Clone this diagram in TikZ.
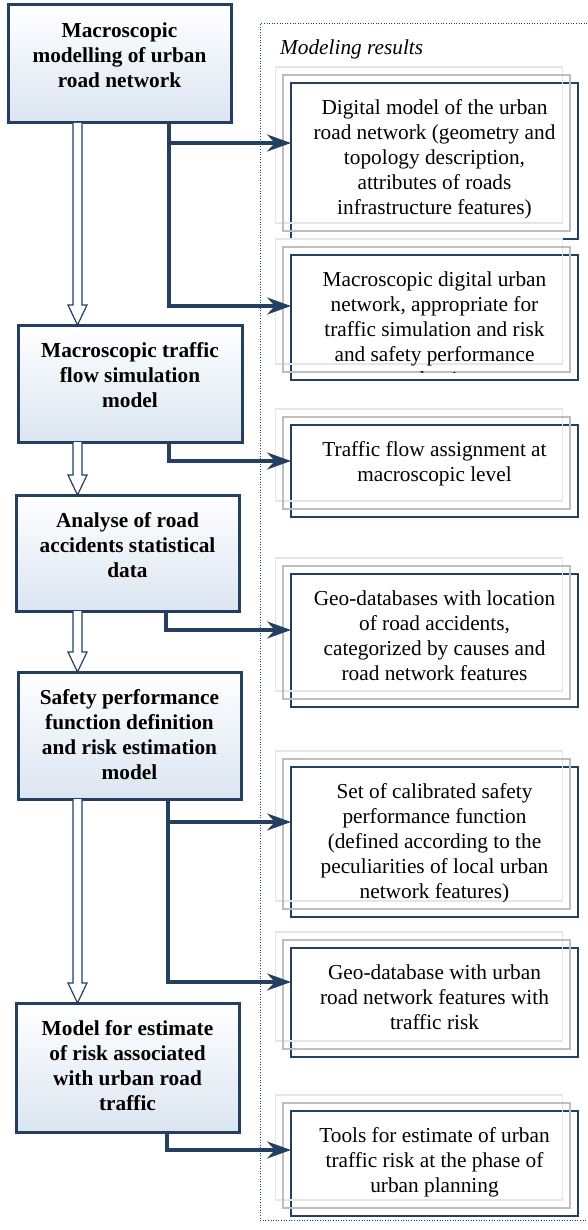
\documentclass[tikz,border=0pt]{standalone}
\usepackage{fontspec}
\setmainfont{Liberation Serif}
\usetikzlibrary{arrows.meta,calc}
\definecolor{navy}{HTML}{243F60}
\definecolor{boxbot}{HTML}{DBE5F1}
\definecolor{frameA}{HTML}{BEBEBE}
\definecolor{frameB}{HTML}{E6E6E6}
\begin{document}
\begin{tikzpicture}[x=1pt,y=-1pt,
  stagebox/.style={draw=navy,line width=3pt,top color=white,bottom color=boxbot,inner sep=0pt,outer sep=0pt},
  stagetext/.style={font=\fontsize{21.3}{25}\selectfont\bfseries,align=center,inner sep=0pt,anchor=north,text=black},
  resbox/.style={draw=navy,line width=2pt,inner sep=0pt,outer sep=0pt,minimum width=287pt},
  restext/.style={font=\fontsize{21.3}{25}\selectfont,align=center,inner sep=0pt,anchor=north,text=black},
  ghostA/.style={draw=frameA,line width=1.5pt},
  ghostB/.style={draw=frameB,line width=1.5pt},
  elbow/.style={draw=navy,line width=3.5pt,-{Stealth[length=24pt,width=17pt,inset=8pt]}},
  hollow/.style={draw=navy,line width=1.2pt,fill=white,line join=miter},
  container/.style={draw=navy,line width=1pt,dash pattern=on 1pt off 1.6pt},
]
\useasboundingbox (0,0) rectangle (587,1230);

% container
\draw[container] (590,24) -- (260,24) -- (260,1220) -- (590,1220);
\node[font=\fontsize{21.3}{25}\selectfont\itshape,anchor=base west,inner sep=0pt] (lbl) at (280,54.5) {Modeling results};

% left stage boxes
\node[stagebox,minimum width=223pt,minimum height=118pt] (b1) at (119.5,64) {};
\node[stagebox,minimum width=224pt,minimum height=117pt] (b2) at (130,383.5) {};
\node[stagebox,minimum width=223pt,minimum height=116pt] (b3) at (127.5,553) {};
\node[stagebox,minimum width=223pt,minimum height=127pt] (b4) at (129.5,735.5) {};
\node[stagebox,minimum width=223pt,minimum height=129pt] (b5) at (127.5,1067.5) {};

\node[stagetext] (t1) at ($(b1.north)+(0,14.5)$) {\strut Macroscopic\\modelling of urban\\road network};
\node[stagetext] (t2) at ($(b2.north)+(0,14.5)$) {\strut Macroscopic traffic\\flow simulation\\model};
\node[stagetext] (t3) at ($(b3.north)+(0,14.5)$) {\strut Analyse of road\\accidents statistical\\data};
\node[stagetext] (t4) at ($(b4.north)+(0,14.5)$) {\strut Safety performance\\function definition\\and risk estimation\\model};
\node[stagetext] (t5) at ($(b5.north)+(0,14.5)$) {\strut Model for estimate\\of risk associated\\with urban road\\traffic};

% result boxes
\node[resbox,minimum height=156pt] (r1) at (434.5,161) {};
\node[resbox,minimum height=125pt] (r2) at (434.5,317.5) {};
\node[resbox,minimum height=92pt]  (r3) at (434.5,471) {};
\node[resbox,minimum height=133pt] (r4) at (434.5,640.5) {};
\node[resbox,minimum height=150pt] (r5) at (434.5,842) {};
\node[resbox,minimum height=109pt] (r6) at (434.5,1002.5) {};
\node[resbox,minimum height=105pt] (r7) at (434.5,1163.5) {};

\foreach \r in {r1,r2,r3,r4,r5,r6,r7}{
  \draw[ghostB] ($(\r.south west)+(-15.5,-16)$) rectangle ($(\r.north east)+(-15.5,-16)$);
  \draw[ghostA] ($(\r.south west)+(-8,-8)$) rectangle ($(\r.north east)+(-8,-8)$);
}

\node[restext] (s1) at ($(r1.north)+(0,13.5)$) {\strut Digital model of the urban\\road network (geometry and\\topology description,\\attributes of roads\\infrastructure features)};
\begin{scope}
  \clip ($(r2.north west)+(0,-20)$) rectangle ($(r2.south east)+(0,-8)$);
  \node[restext] (s2) at ($(r2.north)+(0,13.5)$) {\strut Macroscopic digital urban\\network, appropriate for\\traffic simulation and risk\\and safety performance\\evaluation};
\end{scope}
\node[restext] (s3) at ($(r3.north)+(0,13.5)$) {\strut Traffic flow assignment at\\macroscopic level};
\node[restext] (s4) at ($(r4.north)+(0,13.5)$) {\strut Geo-databases with location\\of road accidents,\\categorized by causes and\\road network features};
\node[restext] (s5) at ($(r5.north)+(0,13.5)$) {\strut Set of calibrated safety\\performance function\\(defined according to the\\peculiarities of local urban\\network features)};
\node[restext] (s6) at ($(r6.north)+(0,13.5)$) {\strut Geo-database with urban\\road network features with\\traffic risk};
\node[restext] (s7) at ($(r7.north)+(0,13.5)$) {\strut Tools for estimate of urban\\traffic risk at the phase of\\urban planning};

% hollow arrows between stages
\coordinate (axis) at (77.5,0);
\foreach \a/\b in {b1/b2,b2/b3,b3/b4,b4/b5}{
  \draw[hollow] let \p1=(\a.south -| axis), \p2=(\b.north -| axis) in
    (\x1-4.5pt,\y1) -- (\x1-4.5pt,\y2+20pt) -- (\x1-9.5pt,\y2+20pt) -- (\x1,\y2)
    -- (\x1+9.5pt,\y2+20pt) -- (\x1+4.5pt,\y2+20pt) -- (\x1+4.5pt,\y1);
}

% elbow connectors to results
\coordinate (e1) at ($(b1.south west)+(161,0)$);
\coordinate (e2) at ($(b2.south west)+(151,0)$);
\coordinate (e3) at ($(b3.south west)+(150,0)$);
\coordinate (e4) at ($(b4.south west)+(150,0)$);
\coordinate (e5) at ($(b5.south west)+(151,0)$);
\draw[elbow] (e1) |- ($(r1.west)+(0,-18)$);
\draw[elbow] (e1) |- ($(r2.west)+(0,-11.5)$);
\draw[elbow] (e2) |- ($(r3.west)+(0,-10)$);
\draw[elbow] (e3) |- ($(r4.west)+(0,-10.5)$);
\draw[elbow] (e4) |- ($(r5.west)+(0,-20)$);
\draw[elbow] (e4) |- ($(r6.west)+(0,-20.5)$);
\draw[elbow] (e5) |- ($(r7.west)+(0,-13.5)$);
\end{tikzpicture}
\end{document}
